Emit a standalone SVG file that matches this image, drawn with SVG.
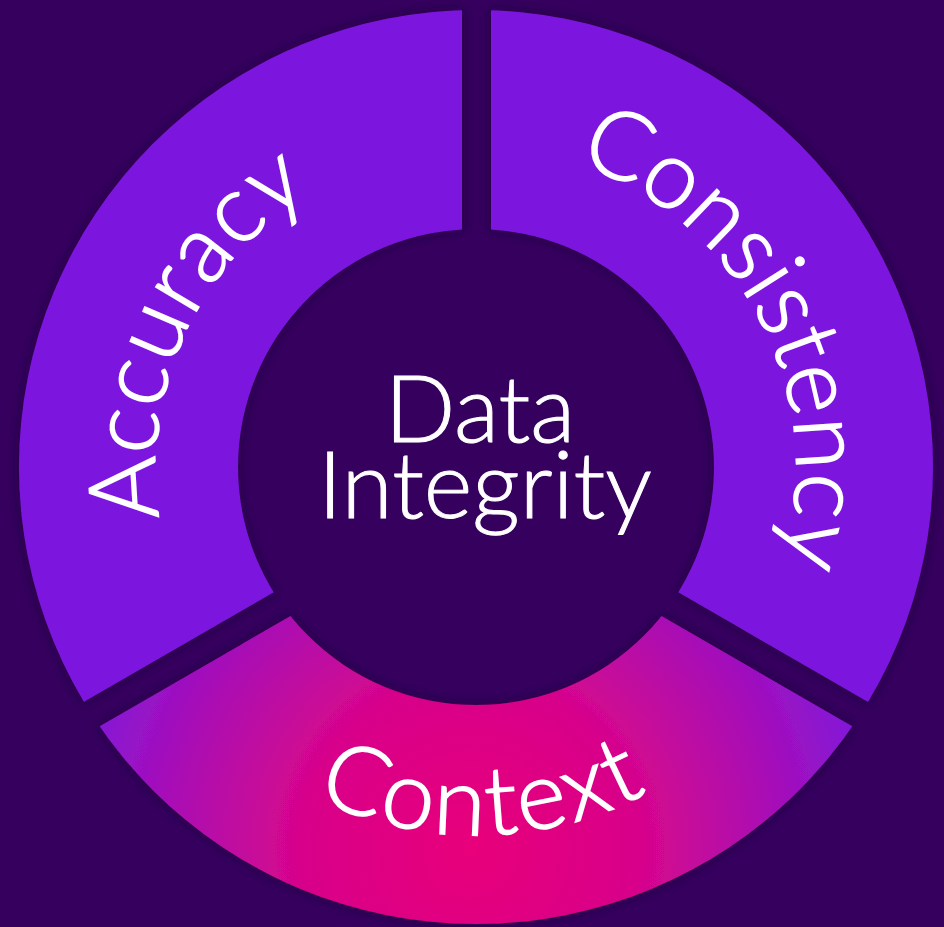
<svg xmlns="http://www.w3.org/2000/svg" width="944" height="927" viewBox="0 0 944 927">
  <style>
    .seg { fill: #7C17DF; fill-rule: evenodd; }
    .lbl { font-family: Lato, "Open Sans", "Liberation Sans", sans-serif; font-weight: 300; font-size: 95px; fill: #FFFFFF; stroke: #FFFFFF; stroke-width: 1.6px; letter-spacing: 1px; }
    .ctr { font-family: Lato, "Open Sans", "Liberation Sans", sans-serif; font-weight: 300; font-size: 93px; fill: #FFFFFF; stroke: #FFFFFF; stroke-width: 1px; text-anchor: middle; }
  </style>
  <defs>
    <filter id="shadow" x="-20%" y="-20%" width="140%" height="140%">
      <feDropShadow dx="0" dy="0" stdDeviation="6" flood-color="#1A0030" flood-opacity="0.75"/>
    </filter>
    <radialGradient id="ctxGrad" gradientUnits="userSpaceOnUse" cx="470" cy="850" r="420">
      <stop offset="0" stop-color="#E8037A"/>
      <stop offset="0.4" stop-color="#D8058A"/>
      <stop offset="0.7" stop-color="#AC0EB2"/>
      <stop offset="1" stop-color="#7C17DF"/>
    </radialGradient>
    <path id="ring" d="M476,10 A457,457 0 1 1 476,924 A457,457 0 1 1 476,10 Z M476,229 A238,238 0 1 0 476,705 A238,238 0 1 0 476,229 Z"/>
    <clipPath id="clipAcc"><polygon points="-10,-10 462,-10 462,483.6 -10,756.1"/></clipPath>
    <clipPath id="clipCon"><polygon points="491,-10 954,-10 954,751.5 491,484.2"/></clipPath>
    <clipPath id="clipCtx"><polygon points="476,509 954,785 954,940 -10,940 -10,789.6"/></clipPath>
    <path id="arcAcc" d="M213.9,650.5 A320,320 0 0 1 448.1,148.2"/>
    <path id="arcCon" d="M498.3,147.8 A320,320 0 0 1 741.3,645.9"/>
    <path id="arcCtx" d="M157.3,651 A368,368 0 0 0 794.7,651"/>
  </defs>

  <rect x="0" y="0" width="944" height="927" fill="#36005F"/>

  <g id="segments" filter="url(#shadow)">
    <g id="accuracy">
      <use href="#ring" class="seg" clip-path="url(#clipAcc)"/>
    </g>
    <g id="consistency">
      <use href="#ring" class="seg" clip-path="url(#clipCon)"/>
    </g>
    <g id="context">
      <use href="#ring" class="seg" style="fill:url(#ctxGrad)" clip-path="url(#clipCtx)"/>
    </g>
  </g>

  <g id="labels">
    <text class="lbl"><textPath href="#arcAcc" startOffset="50%" text-anchor="middle">Accuracy</textPath></text>
    <text class="lbl" style="letter-spacing:0px"><textPath href="#arcCon" startOffset="49%" text-anchor="middle">Consistency</textPath></text>
    <text class="lbl" style="letter-spacing:3px"><textPath href="#arcCtx" startOffset="51%" text-anchor="middle">Context</textPath></text>
  </g>

  <g id="data-integrity">
    <circle cx="476" cy="467" r="236" fill="#36005F" opacity="0"/>
    <text class="ctr" x="480" y="442">Data</text>
    <text class="ctr" x="485" y="518">Integrity</text>
  </g>

  <g id="connectors"></g>
</svg>
